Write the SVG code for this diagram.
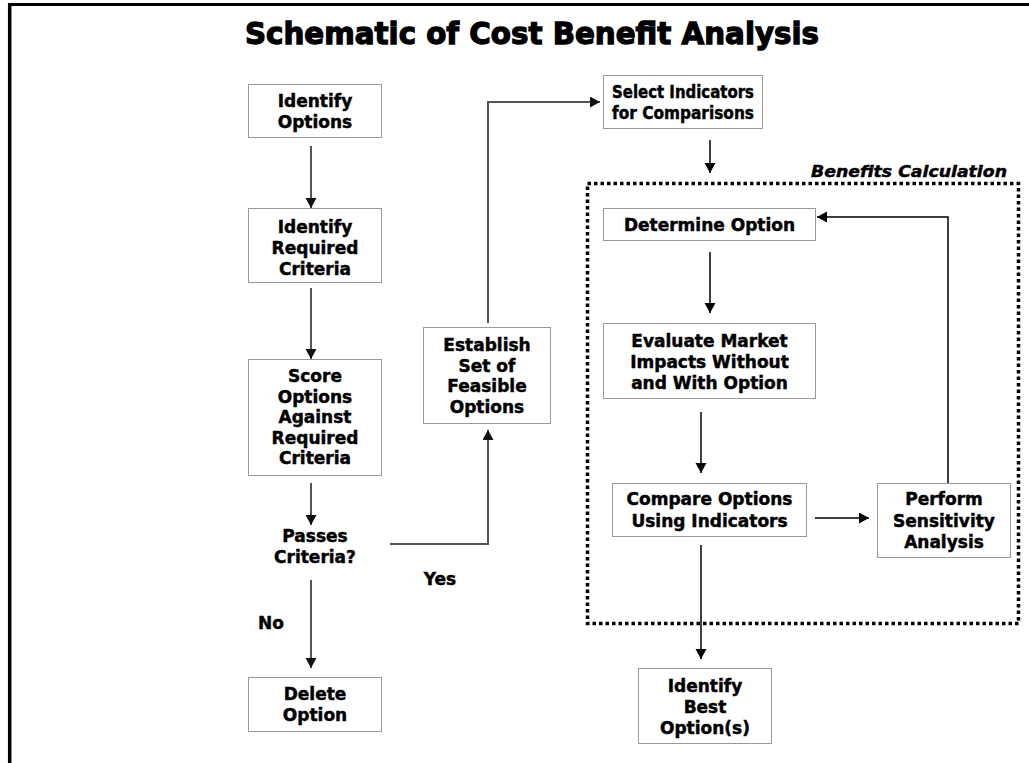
<svg xmlns="http://www.w3.org/2000/svg" width="1029" height="763" viewBox="0 0 1029 763">
<defs>
<marker id="ag" markerUnits="userSpaceOnUse" markerWidth="11" markerHeight="12" refX="10" refY="5.5" orient="auto"><path d="M0,0 L10,5.5 L0,11 z" fill="#111"/></marker>
<marker id="ab" markerUnits="userSpaceOnUse" markerWidth="11" markerHeight="12" refX="10" refY="5.5" orient="auto"><path d="M0,0 L10,5.5 L0,11 z" fill="#000"/></marker>
</defs>
<style>
.box{fill:#fff;stroke:#333;stroke-width:1;stroke-dasharray:1 1}
.t{font-family:"DejaVu Sans",sans-serif;font-weight:bold;font-size:17px;fill:#000;stroke:#000;stroke-width:0.45;text-anchor:middle}
.cg{fill:none;stroke:#555;stroke-width:2}
.cb{fill:none;stroke:#000;stroke-width:1.5}
</style>
<rect width="1029" height="763" fill="#fff"/>
<g id="frame">
<line x1="8" y1="4.5" x2="1029" y2="4.5" stroke="#000" stroke-width="3"/>
<line x1="9.7" y1="3" x2="9.7" y2="763" stroke="#000" stroke-width="3.5"/>
</g>
<g id="title"><text x="532" y="44" font-family="DejaVu Sans,sans-serif" font-weight="bold" font-size="31" text-anchor="middle" stroke="#000" stroke-width="1.3" textLength="574" lengthAdjust="spacingAndGlyphs">Schematic of Cost Benefit Analysis</text></g>
<g id="benefits-group">
<rect x="587.5" y="183.5" width="431" height="440" fill="none" stroke="#000" stroke-width="3.5" stroke-dasharray="3.5 3"/>
<text x="1007" y="177" font-family="DejaVu Sans,sans-serif" font-weight="bold" font-style="italic" font-size="16" text-anchor="end" stroke="#000" stroke-width="0.45" textLength="196" lengthAdjust="spacingAndGlyphs">Benefits Calculation</text>
</g>
<g id="connectors">
<path class="cg" d="M311,146 V208" marker-end="url(#ag)"/>
<path class="cg" d="M311,288 V359" marker-end="url(#ag)"/>
<path class="cg" d="M311,483 V525" marker-end="url(#ag)"/>
<path class="cg" d="M311,580 V668" marker-end="url(#ag)"/>
<path class="cg" d="M390,544 H488 V430" marker-end="url(#ag)"/>
<path class="cg" d="M488,323 V102 H600" marker-end="url(#ag)"/>
<path class="cb" d="M710,140 V173" marker-end="url(#ab)"/>
<path class="cb" d="M710,252 V313" marker-end="url(#ab)"/>
<path class="cb" d="M701,412 V473" marker-end="url(#ab)"/>
<path class="cb" d="M815,518 H869" marker-end="url(#ab)"/>
<path class="cb" d="M948,483 V217 H817" marker-end="url(#ab)"/>
<path class="cb" d="M701,545 V659" marker-end="url(#ab)"/>
</g>
<g id="identify-options"><rect class="box" x="248.5" y="84.5" width="133" height="53"/><text class="t" x="315" y="107">Identify</text><text class="t" x="315" y="128">Options</text></g>
<g id="identify-criteria"><rect class="box" x="248.5" y="208.5" width="133" height="74"/><text class="t" x="315" y="233">Identify</text><text class="t" x="315" y="254">Required</text><text class="t" x="315" y="275">Criteria</text></g>
<g id="score-options"><rect class="box" x="248.5" y="359.5" width="133" height="116"/><text class="t" x="315" y="382">Score</text><text class="t" x="315" y="402.6">Options</text><text class="t" x="315" y="423.2">Against</text><text class="t" x="315" y="443.8">Required</text><text class="t" x="315" y="464.4">Criteria</text></g>
<g id="passes-criteria"><text class="t" x="315" y="542">Passes</text><text class="t" x="315" y="563">Criteria?</text></g>
<g id="label-yes"><text class="t" x="440" y="585">Yes</text></g>
<g id="label-no"><text class="t" x="271" y="629">No</text></g>
<g id="delete-option"><rect class="box" x="248.5" y="677.5" width="133" height="54"/><text class="t" x="315" y="700">Delete</text><text class="t" x="315" y="721">Option</text></g>
<g id="establish-set"><rect class="box" x="423.5" y="327.5" width="127" height="96"/><text class="t" x="487" y="351">Establish</text><text class="t" x="487" y="371.5">Set of</text><text class="t" x="487" y="392">Feasible</text><text class="t" x="487" y="412.5">Options</text></g>
<g id="select-indicators"><rect class="box" x="603.5" y="75.5" width="159" height="53"/><text class="t" x="683" y="98" textLength="142" lengthAdjust="spacingAndGlyphs">Select Indicators</text><text class="t" x="683" y="119" textLength="142" lengthAdjust="spacingAndGlyphs">for Comparisons</text></g>
<g id="determine-option"><rect class="box" x="603.5" y="208.5" width="212" height="32"/><text class="t" x="709.5" y="231">Determine Option</text></g>
<g id="evaluate-market"><rect class="box" x="603.5" y="323.5" width="212" height="75"/><text class="t" x="709.5" y="347">Evaluate Market</text><text class="t" x="709.5" y="368">Impacts Without</text><text class="t" x="709.5" y="389">and With Option</text></g>
<g id="compare-options"><rect class="box" x="612.5" y="483.5" width="194" height="53"/><text class="t" x="709.5" y="505">Compare Options</text><text class="t" x="709.5" y="527">Using Indicators</text></g>
<g id="perform-sensitivity"><rect class="box" x="877.5" y="483.5" width="133" height="74"/><text class="t" x="944" y="505">Perform</text><text class="t" x="944" y="527">Sensitivity</text><text class="t" x="944" y="548">Analysis</text></g>
<g id="identify-best"><rect class="box" x="638.5" y="668.5" width="133" height="75"/><text class="t" x="705" y="692">Identify</text><text class="t" x="705" y="713">Best</text><text class="t" x="705" y="734">Option(s)</text></g>
</svg>
